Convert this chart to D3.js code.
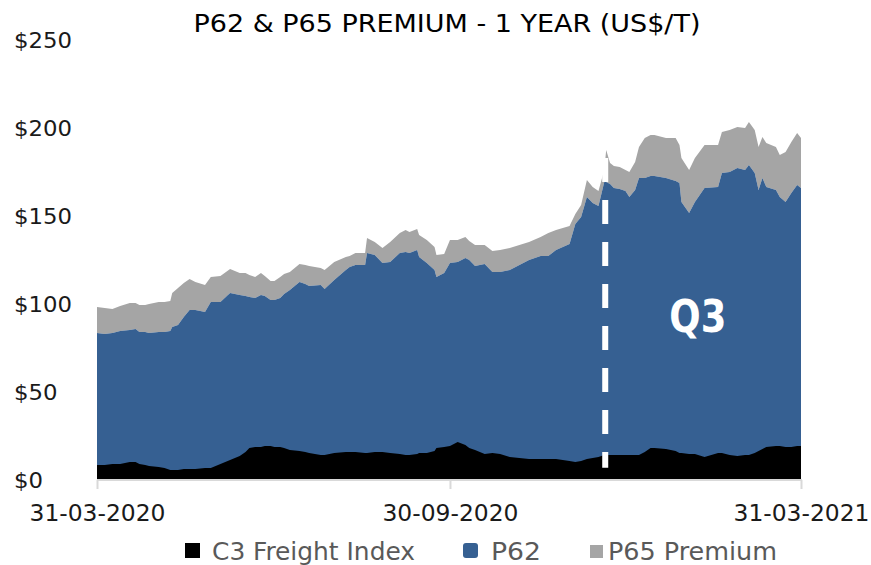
<!DOCTYPE html>
<html><head><meta charset="utf-8">
<script src="https://cdn.jsdelivr.net/npm/d3@7"></script>
<style>body{margin:0;background:#fff}svg{display:block}</style>
</head><body><svg id="c" width="871" height="565"></svg>
<script>
const dates=["2020-03-31","2020-04-04","2020-04-08","2020-04-12","2020-04-17","2020-04-20","2020-04-22","2020-04-25","2020-04-27","2020-05-02","2020-05-05","2020-05-08","2020-05-09","2020-05-12","2020-05-15","2020-05-18","2020-05-21","2020-05-26","2020-05-29","2020-06-03","2020-06-08","2020-06-13","2020-06-16","2020-06-18","2020-06-21","2020-06-24","2020-06-26","2020-06-29","2020-07-01","2020-07-04","2020-07-06","2020-07-09","2020-07-14","2020-07-17","2020-07-19","2020-07-25","2020-07-27","2020-08-01","2020-08-07","2020-08-09","2020-08-12","2020-08-17","2020-08-18","2020-08-22","2020-08-26","2020-08-30","2020-09-04","2020-09-07","2020-09-09","2020-09-13","2020-09-14","2020-09-18","2020-09-22","2020-09-23","2020-09-27","2020-09-30","2020-10-04","2020-10-08","2020-10-10","2020-10-13","2020-10-18","2020-10-22","2020-10-26","2020-10-31","2020-11-05","2020-11-10","2020-11-16","2020-11-20","2020-11-24","2020-12-01","2020-12-04","2020-12-07","2020-12-10","2020-12-13","2020-12-16","2020-12-19","2020-12-20","2020-12-22","2020-12-24","2020-12-27","2020-12-30","2021-01-01","2021-01-04","2021-01-06","2021-01-09","2021-01-12","2021-01-14","2021-01-20","2021-01-25","2021-01-27","2021-01-28","2021-02-01","2021-02-04","2021-02-09","2021-02-16","2021-02-18","2021-02-22","2021-02-26","2021-03-02","2021-03-04","2021-03-07","2021-03-09","2021-03-11","2021-03-13","2021-03-18","2021-03-20","2021-03-23","2021-03-26","2021-03-29","2021-03-31"];
const p62=[83.5,83.0,83.5,84.7,85.2,85.8,84.1,84.1,83.5,84.1,
84.1,84.7,86.9,88.1,92.6,96.6,96.6,95.5,101.1,101.1,
106.3,105.1,104.5,104.0,103.4,105.1,104.5,102.3,102.3,103.4,
105.7,108.0,112.5,111.4,110.2,110.8,108.5,113.6,119.3,121.0,
122.2,122.2,129.0,127.8,123.3,123.9,129.0,129.5,129.0,130.7,
126.7,123.3,119.3,115.3,117.6,123.3,123.9,126.1,125.0,121.6,
122.7,118.2,118.2,119.3,122.2,125.0,127.3,127.3,130.7,134.1,
145.5,149.4,160.8,157.4,155.7,169.3,169.3,168.2,165.9,165.3,
164.2,160.8,164.8,171.6,171.6,172.7,172.7,171.6,169.9,168.8,
158.0,151.7,158.0,165.9,166.5,174.4,175.0,177.3,176.1,179.0,
174.4,164.8,171.6,166.5,164.8,160.8,158.0,163.1,167.6,165.9];
const p65Premium=[14.8,14.7,13.7,14.2,15.4,14.8,15.3,15.3,16.5,17.0,
17.0,17.0,19.4,21.0,19.3,17.6,15.9,15.3,14.2,14.8,
13.6,12.5,13.1,12.5,11.9,12.5,11.4,10.8,10.8,11.9,
11.3,10.2,10.2,10.8,11.4,9.7,10.8,10.3,7.4,6.3,
6.8,6.8,8.5,7.4,8.5,11.3,11.3,12.5,11.9,11.9,
12.5,13.1,13.1,12.5,10.8,13.1,12.5,12.0,10.8,11.9,
10.8,11.9,12.5,12.5,11.3,10.2,10.8,13.0,11.3,10.2,
5.6,6.9,9.7,9.1,8.5,6.8,18.2,11.9,12.5,12.5,
11.9,14.2,15.9,17.6,22.7,23.3,23.3,22.7,24.4,21.5,
25.0,24.4,25.0,24.4,23.8,23.3,23.9,23.3,23.9,24.4,
24.5,24.4,23.3,25.0,24.4,23.9,28.4,28.9,29.6,28.4];
const c3Freight=[8.5,8.5,9.1,9.1,10.2,10.2,9.1,8.5,8.0,7.4,
6.8,5.7,5.7,5.7,6.3,6.3,6.3,6.8,6.8,9.1,
11.4,13.6,15.9,18.2,18.8,18.8,19.3,19.3,18.8,18.8,
18.2,17.0,16.5,15.9,15.3,14.2,14.2,15.3,15.9,15.9,
15.9,15.3,15.3,15.9,15.9,15.3,14.8,14.2,14.2,14.8,
15.3,15.3,16.5,18.2,18.8,19.3,21.6,19.9,18.2,17.0,
14.8,15.3,14.8,13.1,12.5,11.9,11.9,11.9,11.9,10.8,
10.2,10.8,11.9,12.5,13.1,14.2,14.2,14.2,14.2,14.2,
14.2,14.2,14.2,14.2,15.9,18.2,18.2,17.6,16.5,15.3,
15.3,14.8,14.8,13.1,15.3,15.3,14.2,13.6,14.2,14.2,
15.3,16.5,17.6,18.8,19.3,19.3,18.8,18.8,19.3,19.3];
const yTicks=[0,50,100,150,200,250];
const xTicks=["2020-03-31","2020-09-30","2021-03-31"];
const seriesNames=["C3 Freight Index","P62","P65 Premium"];
const titleText="P62 & P65 PREMIUM - 1 YEAR (US$/T)";
const markerDate="2020-12-19T12:00";
const markerRange=[7,183];
const markerLabel="Q3";
const markerLabelAt=["2021-02-05T12:00",84];

const FONT="'Liberation Sans Narrow','DejaVu Sans Condensed','DejaVu Sans',sans-serif";
const colors={c3:"#000000",p62:"#366092",prem:"#a5a5a5"};
const parseD=d3.utcParse("%Y-%m-%d"), parseDT=d3.utcParse("%Y-%m-%dT%H:%M");
const svg=d3.select("#c");
const x=d3.scaleUtc().domain([parseD("2020-03-31"),parseD("2021-03-31")]).range([97,801]);
const y=d3.scaleLinear().domain([0,250]).range([480,40]);

const rows=dates.map((d,i)=>({date:parseD(d),p62:p62[i],prem:p65Premium[i],c3:c3Freight[i]}));
const stack=d3.stack().keys(["p62","prem"])(rows);
const area=d3.area().x(d=>x(d.data.date)).y0(d=>y(d[0])).y1(d=>y(d[1]));
svg.append("path").datum(stack[1]).attr("fill",colors.prem).attr("d",area);
svg.append("path").datum(stack[0]).attr("fill",colors.p62).attr("d",area);
svg.append("path").datum(rows).attr("fill",colors.c3)
  .attr("d",d3.area().x(d=>x(d.date)).y0(y(0)).y1(d=>y(d.c3)));

// marker
const mx=x(parseDT(markerDate));
svg.append("line").attr("x1",mx).attr("x2",mx).attr("y1",y(markerRange[1])).attr("y2",y(markerRange[0]))
  .attr("stroke","#fff").attr("stroke-width",6).attr("stroke-dasharray","24,18");
svg.append("text").attr("x",x(parseDT(markerLabelAt[0]))).attr("y",y(markerLabelAt[1]))
  .attr("text-anchor","middle").attr("fill","#fff").attr("font-family",FONT).attr("font-weight","bold")
  .attr("font-size",44).attr("textLength",57).attr("lengthAdjust","spacingAndGlyphs").text(markerLabel);

// x axis
const xa=svg.append("g").attr("transform","translate(0,480)")
  .call(d3.axisBottom(x).tickValues(xTicks.map(parseD)).tickFormat(d3.utcFormat("%d-%m-%Y")).tickSize(9).tickSizeOuter(0));
xa.select(".domain").attr("stroke","#d9d9d9").attr("stroke-width",2).attr("d","M97,0H802");
xa.selectAll(".tick line").attr("stroke","#d9d9d9").attr("stroke-width",2);
xa.selectAll(".tick text").attr("y",41).attr("dy",null).attr("fill","#1a1a1a")
  .attr("font-family",FONT).attr("font-size",23).attr("textLength",136).attr("lengthAdjust","spacingAndGlyphs");

// y axis
const ya=svg.append("g").attr("transform","translate(97,0)")
  .call(d3.axisLeft(y).tickValues(yTicks).tickFormat(d=>"$"+d).tickSize(0));
ya.select(".domain").remove();
ya.selectAll(".tick text").attr("x",-83).attr("dy","0.36em").attr("text-anchor","start").attr("fill","#1a1a1a")
  .attr("font-family",FONT).attr("font-size",22)
  .each(function(d){const s=("$"+d).length; d3.select(this).attr("textLength",s*14.5).attr("lengthAdjust","spacingAndGlyphs");});

// title
svg.append("text").attr("x",447).attr("y",32).attr("text-anchor","middle").attr("fill","#000")
  .attr("font-family",FONT).attr("font-size",25).attr("textLength",507).attr("lengthAdjust","spacingAndGlyphs").text(titleText);

// legend
const legendLayout=[
  {sx:185,sy:543,sw:15,sh:15,rx:0,tx:212,tw:203,c:colors.c3},
  {sx:463,sy:543,sw:15,sh:15,rx:3,tx:491,tw:50,c:colors.p62},
  {sx:590,sy:545,sw:13,sh:13,rx:0,tx:608,tw:169,c:colors.prem}];
seriesNames.forEach((n,i)=>{
  const L=legendLayout[i];
  svg.append("rect").attr("x",L.sx).attr("y",L.sy).attr("width",L.sw).attr("height",L.sh).attr("rx",L.rx).attr("fill",L.c);
  svg.append("text").attr("x",L.tx).attr("y",560).attr("fill","#595959").attr("font-family",FONT).attr("font-size",24)
    .attr("textLength",L.tw).attr("lengthAdjust","spacingAndGlyphs").text(n);
});
</script></body></html>
